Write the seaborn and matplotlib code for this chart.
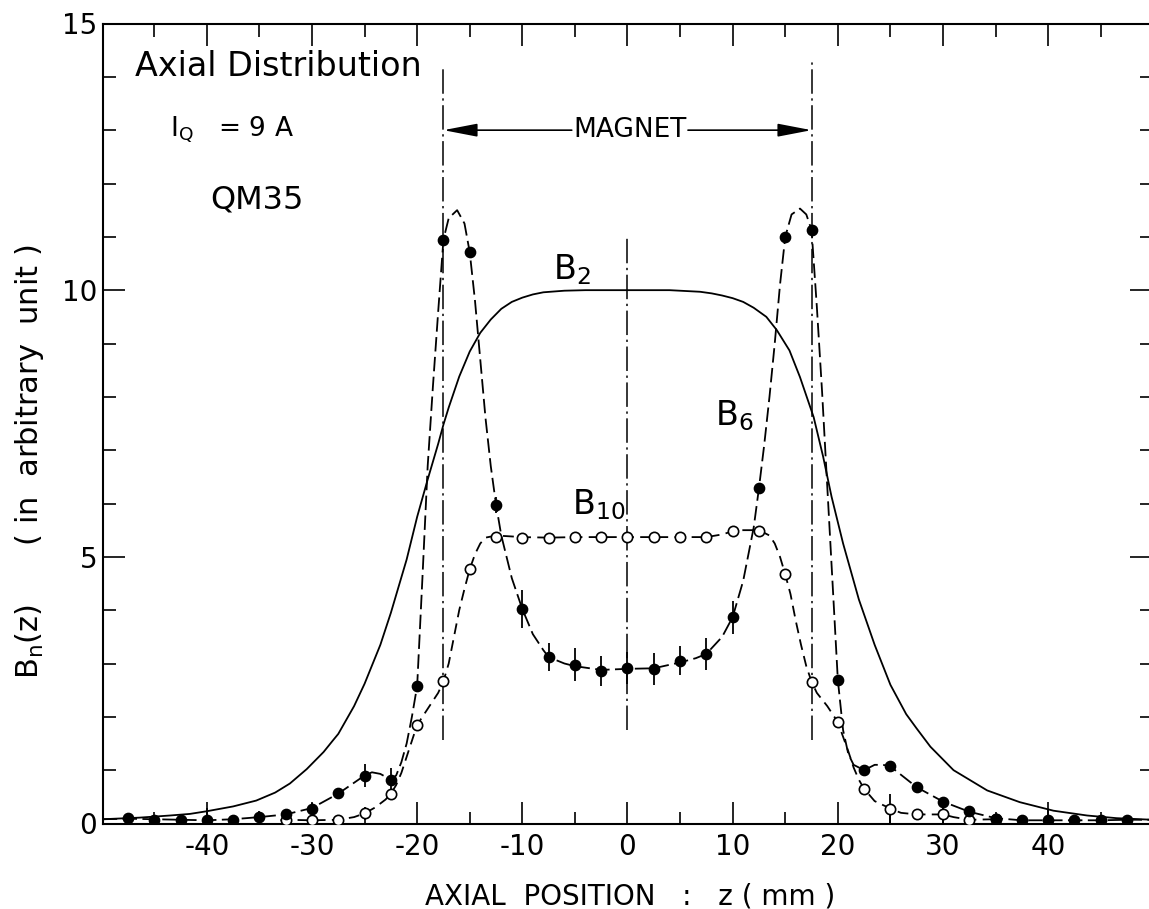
import numpy as np
import pandas as pd
import seaborn as sns
import matplotlib
matplotlib.use("Agg")
import matplotlib.pyplot as plt
from matplotlib.ticker import MultipleLocator, FixedLocator, FixedFormatter

# ---------------- data ----------------
# measured B6 points (filled circles) and their error half-lengths
b6_z = [-47.5, -45, -42.5, -40, -37.5, -35, -32.5, -30, -27.5, -25, -22.5, -20,
        -17.5, -15, -12.5, -10, -7.5, -5, -2.5, 0, 2.5, 5, 7.5, 10, 12.5, 15,
        17.5, 20, 22.5, 25, 27.5, 30, 32.5, 35, 37.5, 40, 42.5, 45, 47.5]
b6_val = [0.10, 0.07, 0.07, 0.06, 0.07, 0.13, 0.17, 0.28, 0.57, 0.90, 0.82, 2.58,
          10.95, 10.71, 5.98, 4.02, 3.12, 2.98, 2.86, 2.92, 2.90, 3.05, 3.17, 3.87,
          6.29, 11.00, 11.13, 2.69, 1.00, 1.07, 0.68, 0.41, 0.23, 0.09, 0.06, 0.06,
          0.06, 0.06, 0.07]
b6_err = [0, 0, 0, 0.23, 0, 0.10, 0, 0.10, 0.10, 0.22, 0.22, 0,
          0, 0.10, 0.15, 0.36, 0.26, 0.31, 0.29, 0.30, 0.30, 0.27, 0.30, 0.31,
          0, 0, 0, 0, 0.10, 0, 0, 0, 0, 0, 0, 0.20, 0, 0.05, 0]

# measured B10 points (open circles)
b10_z = [-32.5, -30, -27.5, -25, -22.5, -20, -17.5, -15, -12.5, -10, -7.5, -5,
         -2.5, 0, 2.5, 5, 7.5, 10, 12.5, 15, 17.5, 20, 22.5, 25, 27.5, 30, 32.5, 35]
b10_val = [0.07, 0.06, 0.07, 0.19, 0.56, 1.85, 2.67, 4.77, 5.37, 5.36, 5.36, 5.37,
           5.37, 5.37, 5.37, 5.37, 5.37, 5.49, 5.48, 4.67, 2.66, 1.90, 0.65, 0.28,
           0.17, 0.17, 0.07, 0.08]
b10_err = [0, 0, 0, 0.12, 0, 0, 0, 0, 0, 0, 0, 0,
           0, 0, 0, 0, 0, 0, 0, 0, 0, 0, 0, 0.28, 0, 0.16, 0, 0]

# B2 solid curve
b2_z = [-49.9, -46.4, -43.5, -41.6, -40, -37.5, -35.3, -33.5, -32.1, -30.5, -28.9,
        -28, -27.5, -26, -25, -23.5, -22.5, -21, -20, -19, -18, -17.5, -17, -16,
        -15, -14, -13, -12, -11, -10, -9, -8, -6, -4, 0, 4, 6.9, 8, 9, 10, 11, 12,
        13.2, 14.2, 15.4, 16.4, 17.7, 18.6, 19.4, 20.5, 22, 23.5, 25, 26.5, 27.5,
        28.8, 31, 34.2, 37.3, 40.5, 43.7, 46.5, 49.9]
b2_val = [0.08, 0.11, 0.15, 0.18, 0.23, 0.32, 0.43, 0.58, 0.75, 1.02, 1.34,
          1.56, 1.68, 2.20, 2.62, 3.35, 3.95, 4.95, 5.75, 6.45, 7.12, 7.48, 7.80, 8.38,
          8.85, 9.20, 9.45, 9.65, 9.78, 9.86, 9.92, 9.96, 9.99, 10.0, 10.0, 10.0, 9.97,
          9.94, 9.90, 9.85, 9.78, 9.67, 9.50, 9.25, 8.87, 8.37, 7.62, 6.88, 6.13, 5.25,
          4.20, 3.35, 2.60, 2.05, 1.78, 1.44, 1.00, 0.62, 0.40, 0.24, 0.15, 0.10, 0.07]

# B6 dashed fit curve
b6c_z = [-49.9, -47.5, -45, -42.5, -40, -37.5, -35, -32.5, -30, -27.5, -25, -24.3,
         -23.5, -22.5, -22, -21.5, -21, -20.5, -20, -19.5, -19, -18.5, -18, -17.5,
         -17, -16.2, -15.5, -15, -14.5, -14, -13.5, -13, -12.5, -12, -11, -10, -9,
         -8, -7.5, -6, -5, -2.5, 0, 2.5, 5, 6.5, 7.5, 9, 10, 11, 12, 12.5, 13, 13.5,
         14, 14.5, 15, 15.6, 16.4, 17, 17.5, 18, 18.5, 19, 19.5, 20, 20.5, 21, 21.5,
         22.5, 23.5, 24.3, 25, 27.5, 30, 32.5, 35, 37.5, 40, 42.5, 45, 47.5, 49.9]
b6c_val = [0.08, 0.09, 0.08, 0.07, 0.06, 0.08, 0.12, 0.17, 0.29, 0.56, 0.90, 0.96,
           0.93, 0.82, 0.90, 1.15, 1.50, 2.00, 2.58, 4.60, 6.70, 8.20, 9.60, 10.95,
           11.35, 11.50, 11.25, 10.71, 9.80, 8.70, 7.60, 6.70, 5.98, 5.40, 4.60, 4.02,
           3.55, 3.25, 3.12, 3.00, 2.95, 2.88, 2.90, 2.91, 3.02, 3.10, 3.18, 3.50, 3.87,
           4.55, 5.55, 6.29, 7.10, 8.00, 9.00, 10.10, 11.00, 11.42, 11.53, 11.42, 11.13,
           9.70, 8.10, 6.30, 4.50, 2.69, 1.75, 1.30, 1.10, 1.00, 1.10, 1.10, 1.07, 0.68,
           0.41, 0.22, 0.10, 0.06, 0.06, 0.06, 0.06, 0.07, 0.07]

# B10 dashed fit curve
b10c_z = [-33, -32.5, -30, -27.5, -26, -25, -24, -23, -22.5, -22, -21.5, -21, -20.5,
          -20, -19, -18, -17.5, -17, -16.5, -16, -15.5, -15, -14.5, -14, -13.5, -12.5,
          -10, -7.5, -5, 0, 5, 7.5, 9, 10, 11, 12.5, 13.5, 14, 14.5, 15, 15.5, 16, 16.5,
          17, 17.5, 18, 19, 20, 21, 21.5, 22, 22.5, 23.5, 25, 26, 27.5, 30, 31, 32.5, 35]
b10c_val = [0.06, 0.07, 0.06, 0.07, 0.12, 0.19, 0.30, 0.45, 0.56, 0.72, 0.95, 1.25, 1.55,
            1.85, 2.15, 2.45, 2.67, 3.00, 3.50, 4.00, 4.40, 4.77, 5.05, 5.25, 5.36, 5.40,
            5.37, 5.36, 5.37, 5.37, 5.37, 5.37, 5.42, 5.48, 5.50, 5.50, 5.40, 5.25, 5.00,
            4.67, 4.30, 3.80, 3.35, 2.95, 2.66, 2.45, 2.20, 1.90, 1.35, 1.05, 0.82, 0.65,
            0.42, 0.28, 0.20, 0.17, 0.17, 0.12, 0.07, 0.08]

xtick_vals = [-40, -30, -20, -10, 0, 10, 20, 30, 40]
xtick_labels = ["-40", "-30", "-20", "-10", "0", "10", "20", "30", "40"]
ytick_vals = [0, 5, 10, 15]
ytick_labels = ["0", "5", "10", "15"]

# ---------------- figure ----------------
sns.set_style("ticks")
plt.rcParams["font.family"] = ["DejaVu Sans"]
plt.rcParams["mathtext.default"] = "regular"
plt.rcParams["text.color"] = "black"
plt.rcParams["axes.labelcolor"] = "black"
plt.rcParams["xtick.color"] = "black"
plt.rcParams["ytick.color"] = "black"

W, H = 1149, 909
fig = plt.figure(figsize=(W / 100, H / 100), dpi=100)
ax = fig.add_axes([102.7 / W, (H - 823.5) / H, (1152.3 - 102.7) / W, (823.5 - 23.5) / H])
ax.set_xlim(-49.9, 49.9)
ax.set_ylim(0, 15)

lw = 1.3
df_b2 = pd.DataFrame({"z": b2_z, "v": b2_val})
df_b6c = pd.DataFrame({"z": b6c_z, "v": b6c_val})
df_b10c = pd.DataFrame({"z": b10c_z, "v": b10c_val})

sns.lineplot(data=df_b2, x="z", y="v", ax=ax, color="black", lw=lw,
             estimator=None, sort=False)
sns.lineplot(data=df_b6c, x="z", y="v", ax=ax, color="black", lw=lw,
             estimator=None, sort=False)
ax.lines[-1].set_dashes([8, 3])
sns.lineplot(data=df_b10c, x="z", y="v", ax=ax, color="black", lw=lw,
             estimator=None, sort=False)
ax.lines[-1].set_dashes([6, 3.5])

# vertical reference lines (magnet edges and centre)
dashdot = (0, (16, 3, 1.5, 3))
ax.vlines([-17.5], 1.56, 14.2, colors="black", lw=1.1, linestyles=dashdot)
ax.vlines([17.5], 1.56, 14.3, colors="black", lw=1.1, linestyles=dashdot)
ax.vlines([0], 1.75, 11.0, colors="black", lw=1.1, linestyles=dashdot)

# error bars
ax.errorbar(b6_z, b6_val, yerr=b6_err, fmt="none", ecolor="black", elinewidth=1.3, capsize=0)
ax.errorbar(b10_z, b10_val, yerr=b10_err, fmt="none", ecolor="black", elinewidth=1.3, capsize=0)

# markers
df_b6 = pd.DataFrame({"z": b6_z, "v": b6_val})
df_b10 = pd.DataFrame({"z": b10_z, "v": b10_val})
sns.scatterplot(data=df_b10, x="z", y="v", ax=ax, s=55, color="white",
                edgecolor="black", linewidth=1.2, zorder=5)
sns.scatterplot(data=df_b6, x="z", y="v", ax=ax, s=55, color="black",
                edgecolor="black", linewidth=1.0, zorder=6)

# ticks
ax.xaxis.set_major_locator(FixedLocator(xtick_vals))
ax.xaxis.set_major_formatter(FixedFormatter(xtick_labels))
ax.xaxis.set_minor_locator(MultipleLocator(5))
ax.yaxis.set_major_locator(FixedLocator(ytick_vals))
ax.yaxis.set_major_formatter(FixedFormatter(ytick_labels))
ax.yaxis.set_minor_locator(MultipleLocator(1))
ax.tick_params(which="both", direction="in", top=True, right=True, width=1.2,
               colors="black", labelsize=20)
ax.tick_params(axis="x", which="both", pad=7)
ax.tick_params(axis="y", which="both", pad=4)
ax.tick_params(which="major", length=16)
ax.tick_params(which="minor", length=9)
for sp in ax.spines.values():
    sp.set_linewidth(1.5)
    sp.set_color("black")
ax.set_xlabel("")
ax.set_ylabel("")

# texts
ax.text(-46.8, 14.2, "Axial Distribution", fontsize=24, va="center", ha="left")
ax.text(-43.5, 13.0, "$I_Q$   = 9 A", fontsize=19, va="center", ha="left")
ax.text(-39.7, 11.69, "QM35", fontsize=23, va="center", ha="left")
ax.text(0.2, 13.0, "MAGNET", fontsize=19, va="center", ha="center")
arrow_kw = dict(arrowstyle="-|>,head_length=1.3,head_width=0.25", color="black",
                lw=1.2, mutation_scale=16, shrinkA=0, shrinkB=0)
ax.annotate("", xy=(-17.5, 13.0), xytext=(-5.3, 13.0), arrowprops=arrow_kw)
ax.annotate("", xy=(17.5, 13.0), xytext=(5.75, 13.0), arrowprops=arrow_kw)
ax.text(-5.3, 10.38, "$B_2$", fontsize=24, va="center", ha="center")
ax.text(10.2, 7.65, "$B_6$", fontsize=24, va="center", ha="center")
ax.text(-2.7, 5.97, "$B_{10}$", fontsize=24, va="center", ha="center")

fig.text(630 / W, (H - 904) / H, "AXIAL  POSITION   :   z ( mm )", fontsize=20,
         ha="center", va="baseline")
fig.text(30 / W, (H - 462) / H, "$B_n(z)$      ( in  arbitrary  unit )", fontsize=22,
         ha="center", va="center", rotation=90)

fig.savefig("out.png", dpi=100)
